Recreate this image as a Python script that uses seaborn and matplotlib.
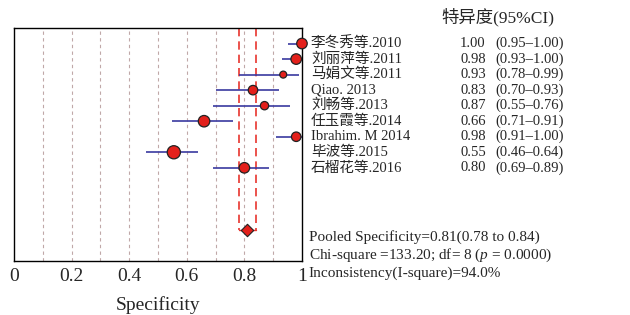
import numpy as np
import pandas as pd
import matplotlib
matplotlib.use("Agg")
import matplotlib.pyplot as plt
import matplotlib.transforms as mtransforms
import seaborn as sns

studies = ["李冬秀等.2010", "刘丽萍等.2011", "马娟文等.2011", "Qiao. 2013", "刘畅等.2013",
           "任玉霞等.2014", "Ibrahim. M 2014", "毕波等.2015", "石榴花等.2016"]
spec = [1.00, 0.98, 0.935, 0.83, 0.87, 0.66, 0.98, 0.555, 0.80]
ci_lo = [0.95, 0.93, 0.78, 0.70, 0.69, 0.55, 0.91, 0.46, 0.69]
ci_hi = [1.00, 1.00, 0.99, 0.92, 0.96, 0.76, 1.00, 0.64, 0.885]
weight = [10, 10, 7, 9, 8, 11, 9, 13, 10]
spec_txt = ["1.00", "0.98", "0.93", "0.83", "0.87", "0.66", "0.98", "0.55", "0.80"]
ci_txt = ["(0.95–1.00)", "(0.93–1.00)", "(0.78–0.99)", "(0.70–0.93)", "(0.55–0.76)",
          "(0.71–0.91)", "(0.91–1.00)", "(0.46–0.64)", "(0.69–0.89)"]
pooled, pooled_lo, pooled_hi = 0.81, 0.78, 0.84

df = pd.DataFrame({"study": studies, "spec": spec, "lo": ci_lo, "hi": ci_hi,
                   "w": weight, "row": np.arange(1, len(studies) + 1)})

sns.set_style("white")
plt.rcParams["font.family"] = ["Liberation Serif", "Noto Sans CJK SC"]
plt.rcParams["mathtext.fontset"] = "custom"
plt.rcParams["mathtext.rm"] = "Liberation Serif"
plt.rcParams["mathtext.it"] = "Liberation Serif:italic"

fig = plt.figure(figsize=(6.3, 3.15), dpi=100)
ax = fig.add_axes([0.0222, 0.1714, 0.4571, 0.7397])
pooled_row = 13

# grid lines every 0.1
for g in np.arange(0.1, 1.0, 0.1):
    ax.axvline(g, color="#c0a8a8", lw=0.8, ls=(0, (3, 3)), zorder=0)

# pooled CI bracket
for v in (pooled_lo, pooled_hi):
    ax.plot([v, v], [0, pooled_row], color="#e8352e", lw=1.2, ls=(0, (5, 3)), zorder=1)
ax.plot([pooled_lo, pooled_hi], [pooled_row, pooled_row], color="#e8352e", lw=1.0, zorder=1)

# CI bars
ax.hlines(df["row"], df["lo"], df["hi"], color="#3a3aa0", lw=1.2, zorder=2)

sns.scatterplot(data=df, x="spec", y="row", size="w", sizes=(25, 90), color="#e3201b",
                edgecolor="#222222", linewidth=0.9, legend=False, ax=ax, zorder=3, clip_on=False)
ax.scatter([pooled], [pooled_row], marker="D", s=40, color="#e3201b", edgecolor="#222222",
           linewidth=0.8, zorder=3)

ax.set_xlim(0, 1)
ax.set_ylim(15, 0)
ax.set_yticks([])
ax.set_ylabel("")
ax.set_xticks([0, 0.2, 0.4, 0.6, 0.8, 1])
ax.set_xticklabels(["0", "0.2", "0.4", "0.6", "0.8", "1"])
ax.tick_params(axis="x", length=0, labelsize=14, pad=5)
ax.set_xlabel("Specificity", fontsize=14, labelpad=8)
for s in ax.spines.values():
    s.set_color("black")
    s.set_linewidth(1.0)

trans = mtransforms.blended_transform_factory(ax.transAxes, ax.transData)
for i, r in enumerate(df["row"]):
    ax.text(1.031, r, studies[i], transform=trans, fontsize=10.5, va="center", ha="left")
    ax.text(1.549, r, spec_txt[i], transform=trans, fontsize=10.5, va="center", ha="left")
    ax.text(1.670, r, ci_txt[i], transform=trans, fontsize=10.5, va="center", ha="left")

fig.text(0.79, 0.945, "特异度(95%CI)", fontsize=12.5, ha="center", va="center")
fig.text(0.49, 1 - 237 / 315, "Pooled Specificity=0.81(0.78 to 0.84)", fontsize=11, va="center")
fig.text(0.49, 1 - 255 / 315, "Chi-square =133.20; df= 8 ($p$ = 0.0000)", fontsize=11, va="center")
fig.text(0.49, 1 - 273 / 315, "Inconsistency(I-square)=94.0%", fontsize=11, va="center")

fig.savefig("out.png", dpi=100)
